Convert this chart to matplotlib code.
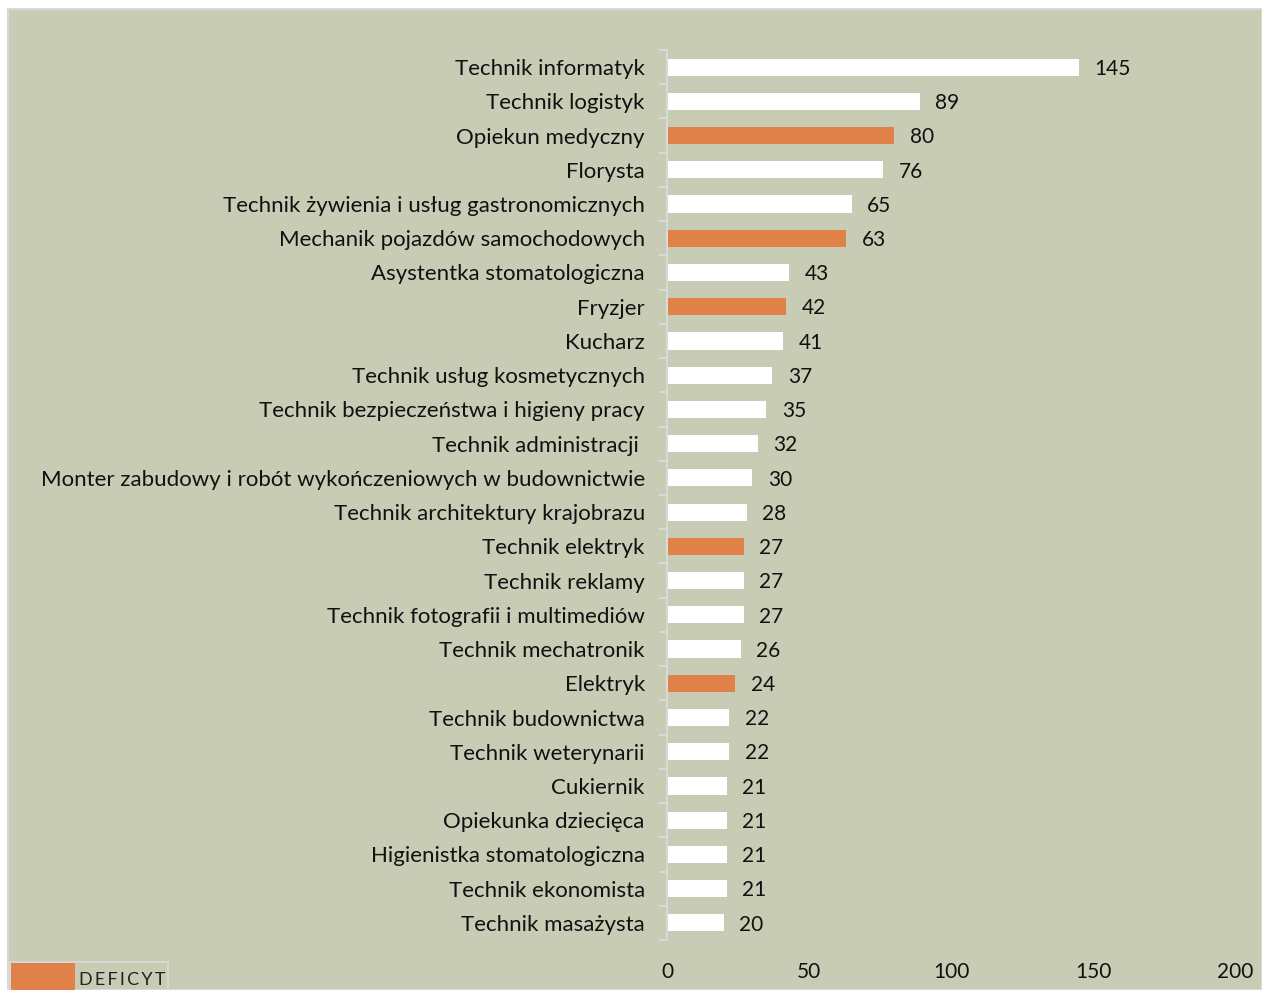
import matplotlib
matplotlib.use("Agg")
import matplotlib.pyplot as plt
from matplotlib.patches import Rectangle
import numpy as np

plt.rcParams['font.family'] = ['Lato', 'DejaVu Sans']

zawody = [
    "Technik informatyk", "Technik logistyk", "Opiekun medyczny", "Florysta",
    "Technik żywienia i usług gastronomicznych", "Mechanik pojazdów samochodowych",
    "Asystentka stomatologiczna", "Fryzjer", "Kucharz",
    "Technik usług kosmetycznych", "Technik bezpieczeństwa i higieny pracy",
    "Technik administracji ",
    "Monter zabudowy i robót wykończeniowych w budownictwie",
    "Technik architektury krajobrazu", "Technik elektryk", "Technik reklamy",
    "Technik fotografii i multimediów", "Technik mechatronik", "Elektryk",
    "Technik budownictwa", "Technik weterynarii", "Cukiernik",
    "Opiekunka dziecięca", "Higienistka stomatologiczna", "Technik ekonomista",
    "Technik masażysta",
]
liczba = [145, 89, 80, 76, 65, 63, 43, 42, 41, 37, 35, 32, 30, 28, 27, 27, 27,
          26, 24, 22, 22, 21, 21, 21, 21, 20]
deficyt = ["Opiekun medyczny", "Mechanik pojazdów samochodowych", "Fryzjer",
           "Technik elektryk", "Elektryk"]

tlo = "#C9CCB4"
pomaranczowy = "#E0814A"

fig = plt.figure(figsize=(12.62, 9.9), dpi=100)
fig.patch.set_facecolor("white")
fig.patches.append(Rectangle((8 / 1262, 0), 1 - 8 / 1262, 1 - 9 / 990,
                             transform=fig.transFigure, facecolor=tlo,
                             edgecolor="#D9D9D9", linewidth=1.5, zorder=-5))

ax = fig.add_axes([667 / 1262, 50 / 990, 568 / 1262, 890 / 990])
ax.set_facecolor("none")

y = np.arange(len(zawody))
kolory = [pomaranczowy if z in deficyt else "white" for z in zawody]
ax.barh(y, liczba, height=0.5, color=kolory)

for yi, v in zip(y, liczba):
    ax.text(v + 5.5, yi + 0.05, str(v), va="center", ha="left", fontsize=15,
            color="#111111")

ax.set_xlim(0, 200)
ax.set_ylim(len(zawody) - 0.5, -0.5)
ax.set_yticks(y)
ax.set_yticklabels(zawody, fontsize=16, color="#111111")
ax.set_yticks(np.arange(-0.5, len(zawody)), minor=True)
ax.tick_params(axis="y", which="major", length=0, pad=16)
ax.tick_params(axis="y", which="minor", length=6, color="#D9D9D9", width=1.5)
ax.set_xticks([0, 50, 100, 150, 200])
ax.tick_params(axis="x", length=0, pad=16, labelsize=15, labelcolor="#111111")

for s in ["top", "right", "bottom"]:
    ax.spines[s].set_visible(False)
ax.spines["left"].set_color("#D9D9D9")
ax.spines["left"].set_linewidth(1.5)

# legenda
fig.patches.append(Rectangle((10 / 1262, 0), 158 / 1262, 28 / 990,
                             transform=fig.transFigure, facecolor="none",
                             edgecolor="#D9D9D9", linewidth=1.2, zorder=2))
fig.patches.append(Rectangle((11 / 1262, 0), 64 / 1262, 27 / 990,
                             transform=fig.transFigure, facecolor=pomaranczowy,
                             edgecolor="none", zorder=3))
fig.text(79 / 1262, 10 / 990, "D E F I C Y T".replace(" ", "\u2009"),
         fontsize=13, va="center", ha="left", color="#222222")

fig.savefig("out.png", dpi=100, facecolor=fig.get_facecolor())
